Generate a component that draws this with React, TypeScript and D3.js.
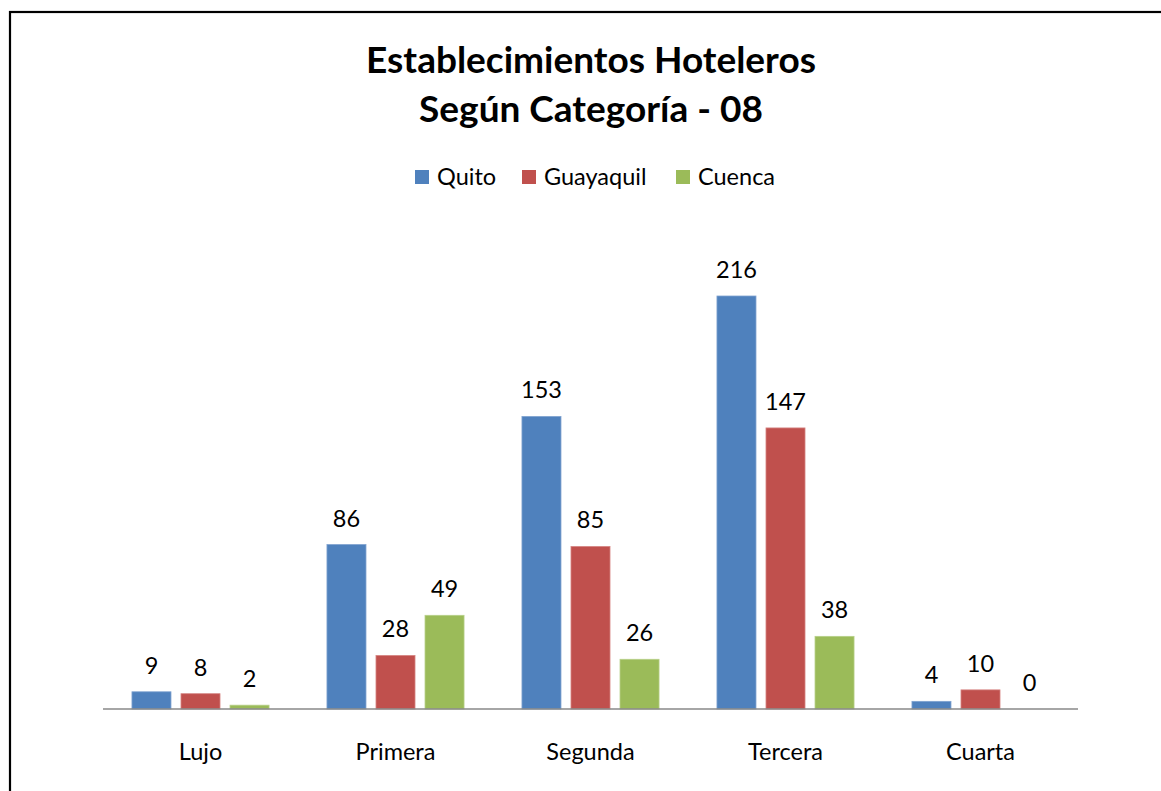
import React from "react";
import * as d3 from "d3";

const categories = ["Lujo", "Primera", "Segunda", "Tercera", "Cuarta"];
const seriesNames = ["Quito", "Guayaquil", "Cuenca"];
const quito = [9, 86, 153, 216, 4];
const guayaquil = [8, 28, 85, 147, 10];
const cuenca = [2, 49, 26, 38, 0];
const seriesValues = [quito, guayaquil, cuenca];
const colors = ["#4F81BD", "#C0504D", "#9BBB59"];
const strokes = ["#7FA2D0", "#D58482", "#B7D088"];
const titleLines = ["Establecimientos Hoteleros", "Según Categoría - 08"];

const W = 1161;
const H = 791;
const FONT = "Lato, 'Open Sans', sans-serif";

export default function App() {
  const x0 = d3
    .scaleBand<string>()
    .domain(categories)
    .range([103, 1078])
    .paddingInner(0.297)
    .paddingOuter(0.1485);
  const x1 = d3
    .scaleBand<string>()
    .domain(seriesNames)
    .range([0, x0.bandwidth()])
    .paddingInner(0.204)
    .paddingOuter(0);
  const y = d3.scaleLinear().domain([0, 250]).range([709, 709 - 250 * 1.912]);

  const legendX = [415, 522, 676];

  return (
    <div style={{ position: "absolute", left: 0, top: 0 }}>
      <svg width={W} height={H} style={{ display: "block", fontFamily: FONT }}>
        <rect x={0} y={0} width={W} height={H} fill="#fff" />
        <rect x={10} y={12} width={1300} height={1000} fill="none" stroke="#000" strokeWidth={2.2} />
        {titleLines.map((t, i) => (
          <text
            key={t}
            x={591}
            y={73 + i * 49}
            textAnchor="middle"
            fontWeight="bold"
            fontSize={37}
            fill="#000"
          >
            {t}
          </text>
        ))}
        {seriesNames.map((s, i) => (
          <g key={s}>
            <rect x={legendX[i]} y={170} width={14} height={14} fill={colors[i]} />
            <text x={legendX[i] + 22} y={185} fontSize={23.5} fill="#000">
              {s}
            </text>
          </g>
        ))}
        {categories.map((c, ci) => (
          <g key={c} transform={`translate(${x0(c)},0)`}>
            {seriesNames.map((s, si) => {
              const v = seriesValues[si][ci];
              const bx = x1(s)!;
              const bw = x1.bandwidth();
              return (
                <g key={s}>
                  {v > 0 && (
                    <rect
                      x={bx}
                      y={y(v)}
                      width={bw}
                      height={y(0) - y(v)}
                      fill={colors[si]}
                      stroke={strokes[si]}
                      strokeWidth={0.8}
                    />
                  )}
                  <text
                    x={bx + bw / 2}
                    y={y(v) - 18}
                    textAnchor="middle"
                    fontSize={23.5}
                    fill="#000"
                  >
                    {v}
                  </text>
                </g>
              );
            })}
            <text x={x0.bandwidth() / 2} y={760} textAnchor="middle" fontSize={23.5} fill="#000">
              {c}
            </text>
          </g>
        ))}
        <line x1={103} x2={1078} y1={709} y2={709} stroke="#888" strokeWidth={1.6} />
      </svg>
    </div>
  );
}
